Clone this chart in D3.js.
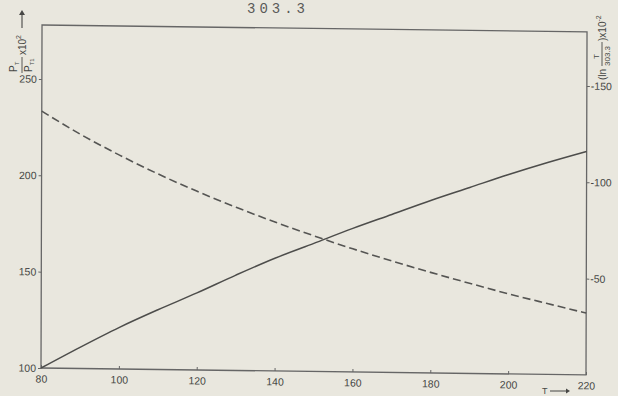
<!DOCTYPE html>
<html>
<head>
<meta charset="utf-8">
<script src="https://cdn.jsdelivr.net/npm/d3@7"></script>
<style>
  body { margin: 0; background: #e9e7de; }
  svg { display: block; font-family: "Liberation Sans", Arial, sans-serif; }
</style>
</head>
<body>
<div id="chart"></div>
<script>
// data
const temps = [80, 90, 100, 110, 120, 130, 140, 150, 160, 170, 180, 190, 200, 210, 220];
const pressureRatio = [100, 111, 121.5, 131, 140, 149.5, 158.5, 166.5, 174.5, 182, 189.5, 196.5, 203.5, 210, 216];
const lnRatio = [-133.3, -121.5, -111.0, -101.4, -92.7, -84.7, -77.3, -70.4, -63.9, -57.9, -52.2, -46.8, -41.6, -36.8, -32.1];
const xTicks = [80, 100, 120, 140, 160, 180, 200, 220];
const leftTicks = [100, 150, 200, 250];
const rightTicks = [-50, -100, -150];

const W = 618, H = 396;
const plotLeft = 41, plotRight = 586, plotTop = 25, plotBottom = 368;
const ink = "#474745";

let svg = d3.select("#chart").append("svg")
  .attr("width", W)
  .attr("height", H);

svg.append("rect").attr("width", W).attr("height", H).attr("fill", "#e9e7de");

// stray typed number at the top of the scanned page
svg.append("text")
  .attr("x", 247).attr("y", 13)
  .attr("font-family", "Liberation Mono, DejaVu Sans Mono, monospace")
  .attr("font-size", 14)
  .attr("textLength", 58)
  .attr("fill", "#5a5a58")
  .text("303.3");

// the scan is slightly skewed
let g = svg.append("g")
  .attr("transform", "matrix(1,0.01274,-0.003,1,1.1,-0.52)");

let x = d3.scaleLinear().domain([80, 220]).range([plotLeft, plotRight]);
let yL = d3.scaleLinear().domain([100, 278]).range([plotBottom, plotTop]);
let yR = d3.scaleLinear().domain([0, -178]).range([plotBottom, plotTop]);

// frame
g.append("rect")
  .attr("x", plotLeft).attr("y", plotTop)
  .attr("width", plotRight - plotLeft).attr("height", plotBottom - plotTop)
  .attr("fill", "none")
  .attr("stroke", "#666")
  .attr("stroke-width", 1.3);

// axes
let xAxis = g.append("g")
  .attr("transform", "translate(0," + plotBottom + ")")
  .call(d3.axisBottom(x).tickValues(xTicks).tickSizeInner(-3).tickSizeOuter(0).tickPadding(7));

let lAxis = g.append("g")
  .attr("transform", "translate(" + plotLeft + ",0)")
  .call(d3.axisLeft(yL).tickValues(leftTicks).tickSizeInner(3).tickSizeOuter(0).tickPadding(2));

let rAxis = g.append("g")
  .attr("transform", "translate(" + plotRight + ",0)")
  .call(d3.axisRight(yR).tickValues(rightTicks).tickSizeInner(3).tickSizeOuter(0).tickPadding(1)
    .tickFormat(d => "-" + Math.abs(d)));

[xAxis, lAxis, rAxis].forEach(a => {
  a.select(".domain").remove();
  a.selectAll("line").attr("stroke", "#666").attr("stroke-width", 1);
  a.selectAll("text")
    .attr("fill", ink)
    .attr("font-size", 10.5)
    .attr("font-family", "Liberation Sans Narrow, Liberation Sans, Arial, sans-serif");
});

// curves
let solid = d3.line()
  .x((d, i) => x(temps[i]))
  .y(d => yL(d))
  .curve(d3.curveMonotoneX);

let dashed = d3.line()
  .x((d, i) => x(temps[i]))
  .y(d => yR(d))
  .curve(d3.curveMonotoneX);

g.append("path")
  .datum(pressureRatio)
  .attr("d", solid)
  .attr("fill", "none")
  .attr("stroke", "#4d4d4b")
  .attr("stroke-width", 1.5);

g.append("path")
  .datum(lnRatio)
  .attr("d", dashed)
  .attr("fill", "none")
  .attr("stroke", "#555553")
  .attr("stroke-width", 1.6)
  .attr("stroke-dasharray", "8,4");

// left axis title, rotated: P_T / P_T1 x10^2 with arrow
let lt = svg.append("g")
  .attr("transform", "translate(21,72) rotate(-90)")
  .attr("fill", ink)
  .attr("font-size", 10);
let num = lt.append("text").attr("x", 0).attr("y", -4);
num.append("tspan").text("P");
num.append("tspan").attr("font-size", 6).attr("dy", 2).text("T");
let den = lt.append("text").attr("x", 0).attr("y", 11);
den.append("tspan").text("P");
den.append("tspan").attr("font-size", 6).attr("dy", 2).text("T1");
lt.append("line").attr("x1", -1).attr("x2", 15).attr("y1", 1).attr("y2", 1)
  .attr("stroke", ink).attr("stroke-width", 0.9);
let mul = lt.append("text").attr("x", 17).attr("y", 4.5);
mul.append("tspan").text("x10");
mul.append("tspan").attr("font-size", 7).attr("dy", -5).text("2");
lt.append("line").attr("x1", 44).attr("x2", 58).attr("y1", 1).attr("y2", 1)
  .attr("stroke", ink).attr("stroke-width", 1.1);
lt.append("path").attr("d", "M57,-2 L62,1 L57,4 Z").attr("fill", ink);

// right axis title, rotated: (ln T/303.3) x10^-2
let rt = svg.append("g")
  .attr("transform", "translate(602,80) rotate(-90)")
  .attr("fill", ink)
  .attr("font-size", 10);
rt.append("text").attr("x", 0).attr("y", 4).text("(ln");
rt.append("text").attr("x", 21).attr("y", -3).attr("font-size", 8).text("T");
rt.append("line").attr("x1", 14).attr("x2", 38).attr("y1", 0).attr("y2", 0)
  .attr("stroke", ink).attr("stroke-width", 0.9);
rt.append("text").attr("x", 14).attr("y", 8).attr("font-size", 8).text("303.3");
let rmul = rt.append("text").attr("x", 39).attr("y", 4);
rmul.append("tspan").text(")x10");
rmul.append("tspan").attr("font-size", 7).attr("dy", -5).text("-2");

// T arrow under the x axis
svg.append("text")
  .attr("x", 542).attr("y", 394)
  .attr("fill", ink)
  .attr("font-size", 9)
  .text("T");
svg.append("line")
  .attr("x1", 550).attr("x2", 566).attr("y1", 391).attr("y2", 391)
  .attr("stroke", ink).attr("stroke-width", 1);
svg.append("path").attr("d", "M566,388.5 L570,391 L566,393.5 Z").attr("fill", ink);
</script>
</body>
</html>
